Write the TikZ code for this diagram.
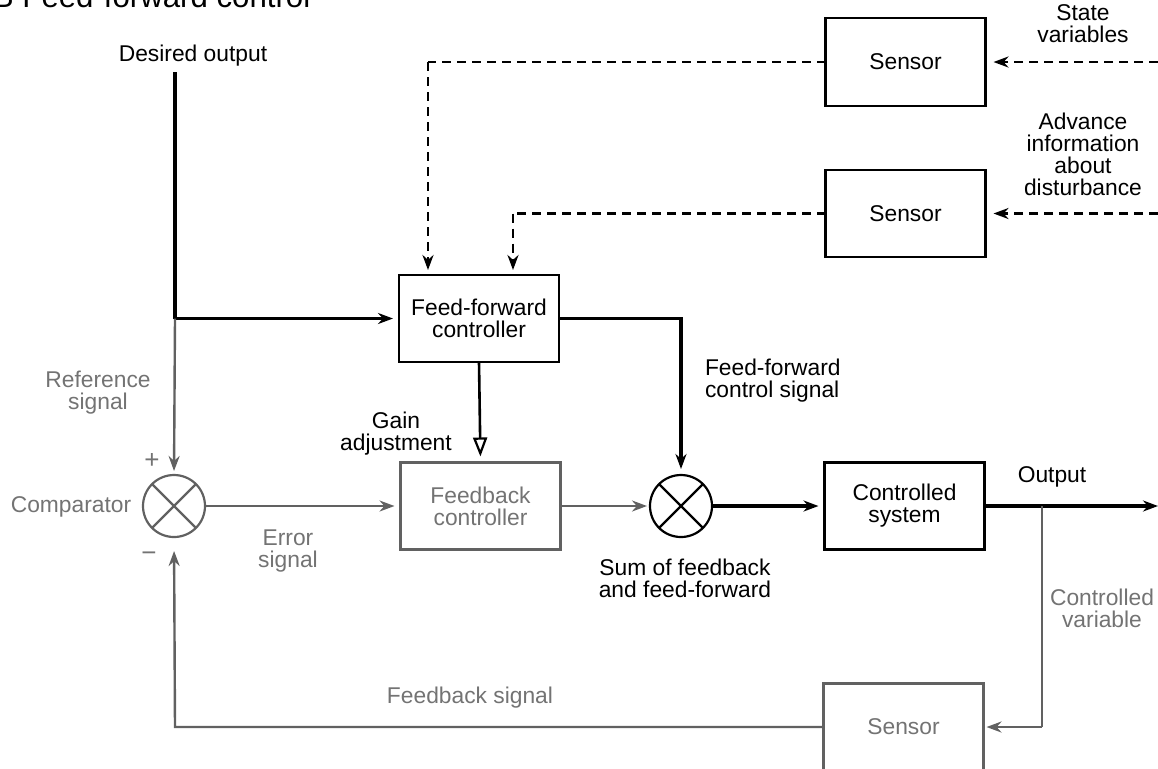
\documentclass[tikz,border=0pt]{standalone}
\usepackage{fontspec}
\setmainfont{Liberation Sans}
\usetikzlibrary{arrows.meta,calc}
\definecolor{fbtext}{gray}{0.45}
\definecolor{fbline}{gray}{0.38}
\begin{document}
\begin{tikzpicture}[x=0.5pt,y=-0.5pt,
  font=\fontsize{11.4}{11}\selectfont,
  every node/.style={inner sep=0pt,outer sep=0pt},
  lbl/.style={align=center},
  fblbl/.style={align=center,text=fbtext},
  box/.style={draw=black,line width=1.1pt,minimum width=80pt,minimum height=43.5pt,align=center},
  fbbox/.style={box,draw=fbline,text=fbtext},
  junction/.style={circle,draw=black,line width=1.1pt,minimum size=31pt},
  fbjunction/.style={junction,draw=fbline},
  tip/.style={-{Stealth[length=7.5pt,width=5.5pt]},shorten >=3pt},
  sig/.style={line width=1.6pt,black},
  fbsig/.style={line width=1.2pt,fbline},
  ffdash/.style={line width=1.4pt,black,dash pattern=on 4.5pt off 3pt},
  gaintip/.style={-{Triangle[open,length=9.5pt,width=7pt,line width=1.1pt]},shorten >=3pt}
]
\useasboundingbox (0,0) rectangle (1158,768);

% title
\node[anchor=base west,font=\fontsize{15.6}{16}\selectfont] (title) at (-7,7) {B Feed-forward control};

% blocks
\node[box] (ff) at (479,318.5) {Feed-forward\\controller};
\node[fbbox] (fb) at (480.5,506) {Feedback\\controller};
\node[box] (cs) at (904.5,506) {Controlled\\system};
\node[box,minimum height=44pt] (s1) at (905.5,62) {Sensor};
\node[box] (s2) at (905.5,213.5) {Sensor};
\node[fbbox] (s3) at (903.5,727) {Sensor};

% comparator and summing junction
\node[fbjunction] (comp) at (174,506) {};
\node[junction] (sum) at (681,506) {};
\draw[line width=1.1pt,fbline] (comp.north east) -- (comp.south west) (comp.north west) -- (comp.south east);
\draw[line width=1.1pt,black] (sum.north east) -- (sum.south west) (sum.north west) -- (sum.south east);

% labels
\node[lbl] (des) at (193,56) {Desired output};
\node[fblbl] (ref) at (98,393) {Reference\\signal};
\node[fblbl,font=\fontsize{13}{13}\selectfont] (plus) at (152,461) {+};
\node[fblbl,font=\fontsize{13}{13}\selectfont] (minus) at (149,557) {−};
\node[fblbl] (cmp) at (71,507) {Comparator};
\node[fblbl] (err) at (288,551) {Error\\signal};
\node[lbl] (gain) at (396,434) {Gain\\adjustment};
\node[anchor=west,align=left] (ffsig) at (705,381) {Feed-forward\\control signal};
\node[lbl] (sumlbl) at (685,578) {Sum of feedback\\and feed-forward};
\node[lbl] (out) at (1052,477) {Output};
\node[fblbl] (cvar) at (1102,608) {Controlled\\variable};
\node[fblbl] (fbs) at (470,698) {Feedback signal};
\node[lbl] (svar) at (1083,24) {State\\variables};
\node[lbl] (adv) at (1083,154) {Advance\\information\\about\\disturbance};

% junction points and free ends
\coordinate (dtop) at (175,72);
\coordinate (br) at (175,318.5);
\coordinate (ob) at (1042,506);
\coordinate (oend) at (1158,506);
\coordinate (cvb) at (1042,727);
\coordinate (fbl) at (175,727);
\coordinate (sin1) at (1158,62);
\coordinate (sin2) at (1158,213.5);
\coordinate (k1) at (428,62);
\coordinate (k2) at (513,213.5);

% feed-forward path (black)
\draw[sig] (dtop) -- (br);
\draw[sig,tip] (br) -- (ff);
\draw[sig,tip] (ff.east) -| (sum.north);
\draw[line width=1.3pt,gaintip] (ff.south) -- (fb.north);
\draw[sig,tip] (sum) -- (cs);
\draw[sig,-{Stealth[length=7.5pt,width=5.5pt]}] (cs.east) -- (oend);

% feedback loop (grey)
\draw[fbsig,tip,shorten >=2pt] (br) -- (comp.north);
\draw[fbsig,tip] (comp) -- (fb);
\draw[fbsig,tip,shorten >=1.5pt] (fb) -- (sum);
\draw[fbsig] (ob) -- (cvb);
\draw[fbsig,tip,shorten >=1.5pt] (cvb) -- (s3.east);
\draw[fbsig,tip,shorten >=7pt] (s3.west) -- (fbl) -- (comp.south);

% sensed disturbances (dashed)
\draw[ffdash,tip,shorten >=4pt] (sin1) -- (s1.east);
\draw[ffdash,tip,shorten >=4pt] (sin2) -- (s2.east);
\draw[ffdash] (s1.west) -- (k1);
\draw[ffdash,tip,shorten >=2.5pt] (k1) -- (k1 |- ff.north);
\draw[ffdash] (s2.west) -- (k2);
\draw[ffdash,tip,shorten >=2.5pt] (k2) -- (k2 |- ff.north);
\end{tikzpicture}
\end{document}
